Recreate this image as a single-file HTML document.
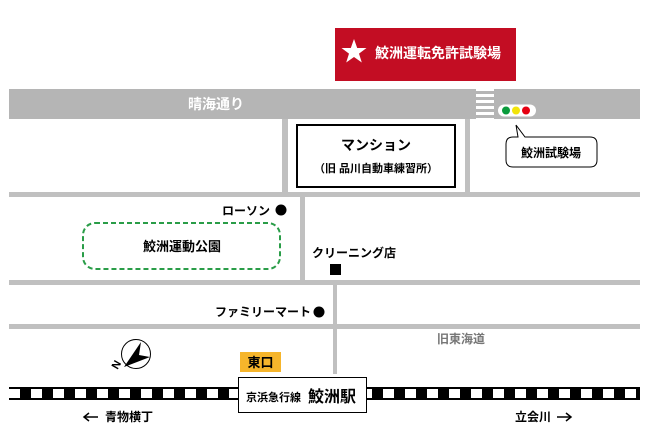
<!DOCTYPE html>
<html><head><meta charset="utf-8"><style>
body{margin:0;background:#fff}
svg{display:block}
text{font-family:"Liberation Sans","Noto Sans CJK JP",sans-serif;font-weight:bold}
</style></head><body>
<svg width="648" height="446" viewBox="0 0 648 446" xmlns="http://www.w3.org/2000/svg">
<defs>
<pattern id="rail" x="20" y="0" width="22" height="446" patternUnits="userSpaceOnUse">
<rect x="0" y="389" width="11" height="9" fill="#000"/>
</pattern>
</defs>
<rect x="335" y="28" width="181" height="53" fill="#c30d23"/>
<polygon fill="#fff" points="354,39 357.2,48 366.5,48 359,53.6 361.8,62.5 354,57 346.2,62.5 349,53.6 341.5,48 350.8,48"/>
<text x="375" y="58" font-size="14" fill="#fff">鮫洲運転免許試験場</text>
<rect x="9" y="89" width="631" height="30" fill="#b5b5b5"/>
<rect x="476" y="89" width="18" height="30" fill="#fff"/>
<g fill="#b5b5b5"><rect x="476" y="91" width="18" height="3"/><rect x="476" y="97" width="18" height="3"/><rect x="476" y="103" width="18" height="3"/><rect x="476" y="109" width="18" height="3"/><rect x="476" y="115" width="18" height="3"/></g>
<text x="188" y="109" font-size="14" fill="#fff">晴海通り</text>
<rect x="498" y="104.5" width="38" height="12" rx="6" fill="#fff"/>
<circle cx="506" cy="110.5" r="4" fill="#0a9b3c"/><circle cx="516" cy="110.5" r="4" fill="#f2e40a"/><circle cx="526" cy="110.5" r="4" fill="#e60012"/>
<path d="M516,125 L525,137 L590,137 Q597,137 597,144 L597,160 Q597,167 590,167 L513,167 Q506,167 506,160 L506,144 Q506,137 513,137 L518,137 Z" fill="#fff" stroke="#000" stroke-width="1"/>
<text x="551" y="157" font-size="12" text-anchor="middle" fill="#000">鮫洲試験場</text>
<g fill="#c0c0c0">
<rect x="282" y="119" width="6" height="74"/>
<rect x="465" y="119" width="5" height="74"/>
<rect x="9" y="192" width="631" height="5"/>
<rect x="300" y="196" width="5" height="85"/>
<rect x="9" y="280" width="631" height="5"/>
<rect x="333" y="284" width="4" height="90"/>
<rect x="9" y="324" width="631" height="5"/>
</g>
<rect x="297" y="125" width="158" height="62" fill="#fff" stroke="#000" stroke-width="2"/>
<text x="376" y="150" font-size="14" text-anchor="middle" fill="#000">マンション</text>
<text x="376" y="172" font-size="11" text-anchor="middle" fill="#000">（旧 品川自動車練習所）</text>
<text x="270" y="215" font-size="12" text-anchor="end" fill="#000">ローソン</text>
<circle cx="281" cy="210" r="5.5" fill="#000"/>
<rect x="83" y="223" width="197" height="46" rx="12" fill="none" stroke="#2a9d48" stroke-width="2" stroke-dasharray="5,3"/>
<text x="182" y="251" font-size="13" text-anchor="middle" fill="#000">鮫洲運動公園</text>
<text x="312" y="257" font-size="12" fill="#000">クリーニング店</text>
<rect x="330" y="264" width="11" height="11" fill="#000"/>
<text x="311" y="316" font-size="12" text-anchor="end" fill="#000">ファミリーマート</text>
<circle cx="319" cy="312" r="5.5" fill="#000"/>
<text x="437" y="343" font-size="12" fill="#777">旧東海道</text>
<circle cx="136" cy="354" r="14.5" fill="#fff" stroke="#000" stroke-width="1"/>
<polygon points="141,342 139,355 150,357 124,367" fill="#000"/>
<text x="114" y="372" font-size="11" fill="#000" transform="rotate(-60 114 368)">N</text>
<rect x="240" y="352" width="41" height="20" fill="#f6b52b"/>
<text x="260.5" y="367" font-size="13" text-anchor="middle" fill="#000">東口</text>
<rect x="9" y="387" width="631" height="13" fill="#fff"/>
<rect x="9" y="387" width="631" height="2" fill="#000"/>
<rect x="9" y="398" width="631" height="2" fill="#000"/>
<rect x="9" y="389" width="631" height="9" fill="url(#rail)"/>
<rect x="238.5" y="377.5" width="128" height="35" fill="#fff" stroke="#000" stroke-width="1"/>
<text x="246" y="401" font-size="11" fill="#000">京浜急行線</text>
<text x="308" y="402" font-size="16" fill="#000">鮫洲駅</text>
<g stroke="#000" stroke-width="1.5" fill="none">
<line x1="84" y1="417" x2="98" y2="417"/><polyline points="89,413 84,417 89,421"/>
<line x1="557" y1="417" x2="571" y2="417"/><polyline points="566,413 571,417 566,421"/>
</g>
<text x="105" y="421" font-size="12" fill="#000">青物横丁</text>
<text x="515" y="421" font-size="12" fill="#000">立会川</text>
</svg>
</body></html>
